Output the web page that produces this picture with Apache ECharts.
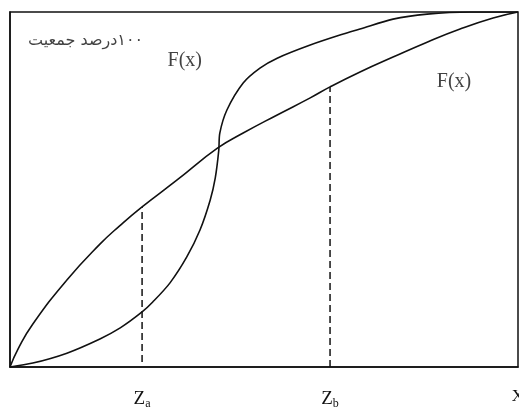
<!DOCTYPE html>
<html>
<head>
<meta charset="utf-8">
<script src="https://cdn.jsdelivr.net/npm/echarts@6/dist/echarts.min.js"></script>
<style>
    html, body { margin: 0; padding: 0; background: #fff; }
    #chart { width: 519px; height: 408px; }
</style>
</head>
<body>
<div id="chart"></div>
<script>
// S-shaped distribution curve (x, cumulative %)
var curveS = [[0, 0], [4.5, 1.1], [11.2, 3.9], [17.7, 7.9], [21.7, 11.0], [26.0, 15.5],
    [28.1, 18.3], [31.5, 23.7], [34.8, 31.0], [37.4, 38.6], [39.4, 47.0], [40.4, 53.2],
    [41.1, 61.1], [41.3, 65.9], [42.7, 72.4], [45.9, 80.0], [49.2, 84.2], [52.6, 87.0],
    [59.1, 90.7], [65.6, 93.8], [68.9, 95.2], [75.4, 98.0], [82.1, 99.4], [90.6, 100], [100, 100]];
// concave distribution curve
var curveConcave = [[0, 0], [1.6, 5.1], [4.5, 12.1], [11.2, 24.5], [17.7, 34.6], [21.7, 39.9],
    [26.0, 45.1], [32.9, 52.7], [40.9, 61.7], [45.9, 65.9], [52.6, 71.0], [59.1, 75.8],
    [63.0, 78.9], [68.9, 83.1], [75.4, 87.3], [82.1, 91.5], [88.6, 95.2], [95.1, 98.3], [100, 100]];
// dashed drop lines
var zaLine = [[26.0, 1.4], [26.0, 45.1]];
var zbLine = [[63.0, 0], [63.0, 78.9]];
// labels under the x axis
var axisMarks = [26.0, 63.0, 100];
var axisNames = ['{z|Z}{s|a}', '{z|Z}{s|b}', '{x|X}'];
// text notes inside the plot
var noteX = [34.4, 87.4, 26.2];
var noteY = [86.2, 80.3, 91.8];
var noteText = ['F(x)', 'F(x)', '\u200F۱۰۰درصد جمعیت'];

var ink = '#111';
var noteData = [];
for (var i = 0; i < noteText.length; i++) {
    var persian = i === 2;
    noteData.push({
        value: [noteX[i], noteY[i]],
        label: {
            formatter: noteText[i],
            align: persian ? 'right' : 'center',
            fontFamily: persian ? 'DejaVu Sans' : 'Liberation Serif',
            fontSize: persian ? 16 : 20
        }
    });
}

var option = {
    animation: false,
    backgroundColor: '#fff',
    grid: {
        left: 10,
        right: 1,
        top: 12,
        bottom: 41,
        outerBoundsMode: 'none',
        show: true,
        borderColor: ink,
        borderWidth: 1.5
    },
    xAxis: {
        type: 'value',
        min: 0,
        max: 100,
        axisLine: { show: true, lineStyle: { color: ink, width: 1.5 } },
        axisTick: { show: false },
        splitLine: { show: false },
        axisLabel: {
            customValues: axisMarks,
            margin: 21,
            color: ink,
            formatter: function (v) {
                return axisNames[axisMarks.indexOf(v)];
            },
            rich: {
                z: { fontFamily: 'Liberation Serif', fontSize: 19, color: ink },
                s: { fontFamily: 'Liberation Serif', fontSize: 12, color: ink, verticalAlign: 'bottom', padding: [10, 0, 0, 0] },
                x: { fontFamily: 'Liberation Serif', fontSize: 17, color: ink, padding: [0, 0, 14, 0] }
            }
        }
    },
    yAxis: {
        type: 'value',
        min: 0,
        max: 100,
        axisLine: { show: true, lineStyle: { color: ink, width: 1.5 } },
        axisTick: { show: false },
        axisLabel: { show: false },
        splitLine: { show: false }
    },
    series: [{
        type: 'line',
        data: curveS,
        smooth: 0.3,
        showSymbol: false,
        lineStyle: { color: ink, width: 1.6 }
    }, {
        type: 'line',
        data: curveConcave,
        smooth: 0.5,
        showSymbol: false,
        lineStyle: { color: ink, width: 1.6 }
    }, {
        type: 'line',
        data: zaLine,
        showSymbol: false,
        lineStyle: { color: ink, width: 1.5, type: [7, 4] }
    }, {
        type: 'line',
        data: zbLine,
        showSymbol: false,
        lineStyle: { color: ink, width: 1.5, type: [7, 4] }
    }, {
        type: 'scatter',
        data: noteData,
        symbolSize: 0,
        label: { show: true, position: 'inside', color: ink }
    }]
};

var myChart = echarts.init(document.getElementById('chart'));
myChart.setOption(option);
</script>
</body>
</html>
